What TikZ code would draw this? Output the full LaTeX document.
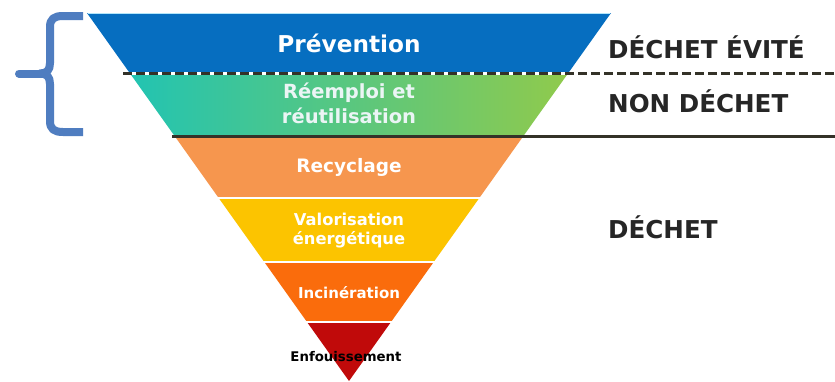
\documentclass[tikz,border=0pt]{standalone}
\usepackage{fontspec}
\setmainfont{DejaVu Sans}
\definecolor{bluePrev}{RGB}{6,110,192}
\definecolor{tealL}{RGB}{34,196,178}
\definecolor{greenR}{RGB}{144,202,76}
\definecolor{orangeL}{RGB}{246,150,78}
\definecolor{yellowV}{RGB}{252,196,0}
\definecolor{orangeI}{RGB}{250,108,12}
\definecolor{redE}{RGB}{192,10,10}
\definecolor{braceBlue}{RGB}{79,125,192}
\definecolor{lineDark}{RGB}{52,50,40}
\definecolor{labelDark}{RGB}{38,38,38}
\tikzset{
  layerlabel/.style={text=white, font=\bfseries, inner sep=0pt, anchor=center},
  sidelabel/.style={text=labelDark, font=\bfseries\fontsize{24.6}{28}\selectfont, inner sep=0pt, anchor=west},
  gapline/.style={white, line width=2.2pt},
}
\begin{document}
\begin{tikzpicture}[x=1pt,y=-1pt]
\useasboundingbox (0,0) rectangle (835,381);
\fill[white] (0,0) rectangle (835,381);
% bands
\fill[bluePrev] (87,13) -- (611,13) -- (568.3,73) -- (129.7,73) -- cycle;
\draw[cyan!30, line width=1pt] (88,13) -- (610,13);
\shade[left color=tealL, right color=greenR] (129.7,73) -- (568.3,73) -- (523.4,136) -- (174.6,136) -- cycle;
\fill[orangeL] (174.6,136) -- (523.4,136) -- (479.3,198) -- (218.7,198) -- cycle;
\fill[yellowV] (218.7,198) -- (479.3,198) -- (433.7,262) -- (264.3,262) -- cycle;
\fill[orangeI] (264.3,262) -- (433.7,262) -- (391,322) -- (307,322) -- cycle;
\fill[redE] (307,322) -- (391,322) -- (349,381) -- cycle;
% gaps
\draw[gapline] (210,198) -- (490,198);
\draw[gapline] (255,262) -- (445,262);
\draw[gapline] (298,322) -- (400,322);
\draw[gapline, line width=3pt] (123,73) -- (572,73);
% separators
\coordinate (d1) at (123,73);
\coordinate (d2) at (835,73);
\coordinate (s1) at (172,136);
\coordinate (s2) at (835,136);
\draw[lineDark, line width=3pt, dash pattern=on 9pt off 4pt] (d1) -- (d2);
\draw[lineDark, line width=3pt] (s1) -- (s2);
% brace
\draw[braceBlue, line width=8pt, line join=round]
  (83,16) -- (63,16) .. controls (54,16) and (50,19) .. (50,27) -- (50,63)
  .. controls (50,70) and (47,73.5) .. (40,73.5)
  .. controls (47,73.5) and (50,77) .. (50,84) -- (50,121)
  .. controls (50,129) and (54,132) .. (63,132) -- (83,132);
\draw[braceBlue, line width=8pt, line cap=round] (42,73.5) -- (19,73.5);
% layer labels
\node[layerlabel, font=\bfseries\fontsize{23.2}{26}\selectfont] (prev) at (349,43) {Prévention};
\node[layerlabel, text=white!92!teal, font=\bfseries\fontsize{19.5}{22}\selectfont] (reem1) at (349,93) {Réemploi et};
\node[layerlabel, text=white!92!teal, font=\bfseries\fontsize{19.5}{22}\selectfont] (reem2) at (349,116) {réutilisation};
\node[layerlabel, font=\bfseries\fontsize{18.5}{22}\selectfont] (recy) at (349,167) {Recyclage};
\node[layerlabel, font=\bfseries\fontsize{16.3}{20}\selectfont] (valo1) at (349,219) {Valorisation};
\node[layerlabel, font=\bfseries\fontsize{16.3}{20}\selectfont] (valo2) at (349,240) {énergétique};
\node[layerlabel, font=\bfseries\fontsize{15}{18}\selectfont] (inci) at (349,293) {Incinération};
\node[layerlabel, text=black, font=\bfseries\fontsize{13.3}{16}\selectfont] (enfo) at (346,357) {Enfouissement};
% side labels
\node[sidelabel] (evite) at (608,47) {DÉCHET ÉVITÉ};
\node[sidelabel] (non) at (608,101) {NON DÉCHET};
\node[sidelabel] (dech) at (608,227) {DÉCHET};
\end{tikzpicture}
\end{document}
